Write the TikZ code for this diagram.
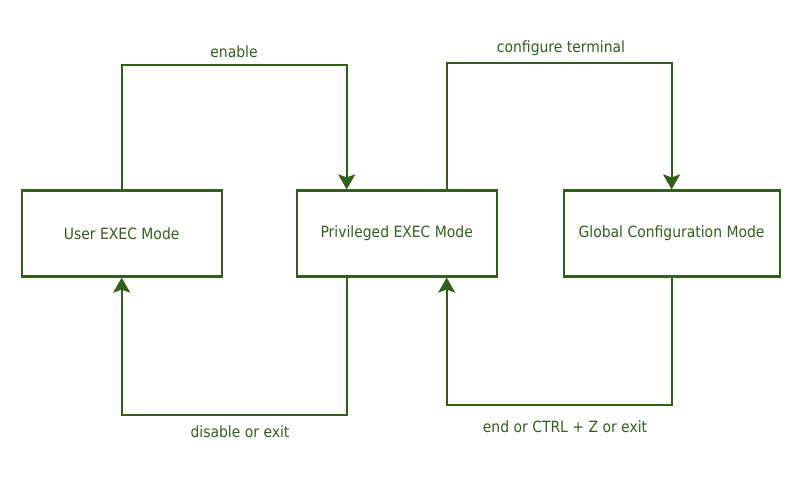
\documentclass[tikz,border=0pt]{standalone}
\usepackage{fontspec}
\setmainfont{DejaVu Sans Condensed}
\usetikzlibrary{arrows.meta}
\definecolor{dgreen}{RGB}{50,95,28}
\begin{document}
\begin{tikzpicture}[x=1pt,y=-1pt,
  modebox/.style={draw=dgreen,line width=2.2pt,minimum height=86pt,inner sep=0pt,text=dgreen,font=\fontsize{15.5}{18}\selectfont},
  conn/.style={draw=dgreen,line width=2.2pt,-{Stealth[length=15pt,width=17pt,inset=3pt]}},
  lbl/.style={text=dgreen,font=\fontsize{15.5}{18}\selectfont,inner sep=0pt}]
\useasboundingbox (0,0) rectangle (794,476);
\node[modebox,minimum width=200pt] (user) at (121.7,233.5) {User EXEC Mode};
\node[modebox,minimum width=200pt] (priv) at (396.7,233.5) {Privileged EXEC Mode};
\node[modebox,minimum width=216pt] (glob) at (671.6,233.5) {Global Configuration Mode};
% enable
\draw[conn] (user.north) |- (234,65.2) -| ([xshift=-50pt]priv.north);
\node[lbl] (lenable) at (234,52) {enable};
% configure terminal
\draw[conn] ([xshift=50pt]priv.north) |- (560,63.3) -| (glob.north);
\node[lbl] (lconf) at (561,48) {configure terminal};
% disable or exit
\draw[conn] ([xshift=-50pt]priv.south) |- (234,415) -| (user.south);
\node[lbl] (ldis) at (240,432) {disable or exit};
% end
\draw[conn] (glob.south) |- (560,405) -| ([xshift=50pt]priv.south);
\node[lbl] (lend) at (565,427) {end or CTRL + Z or exit};
\end{tikzpicture}
\end{document}
